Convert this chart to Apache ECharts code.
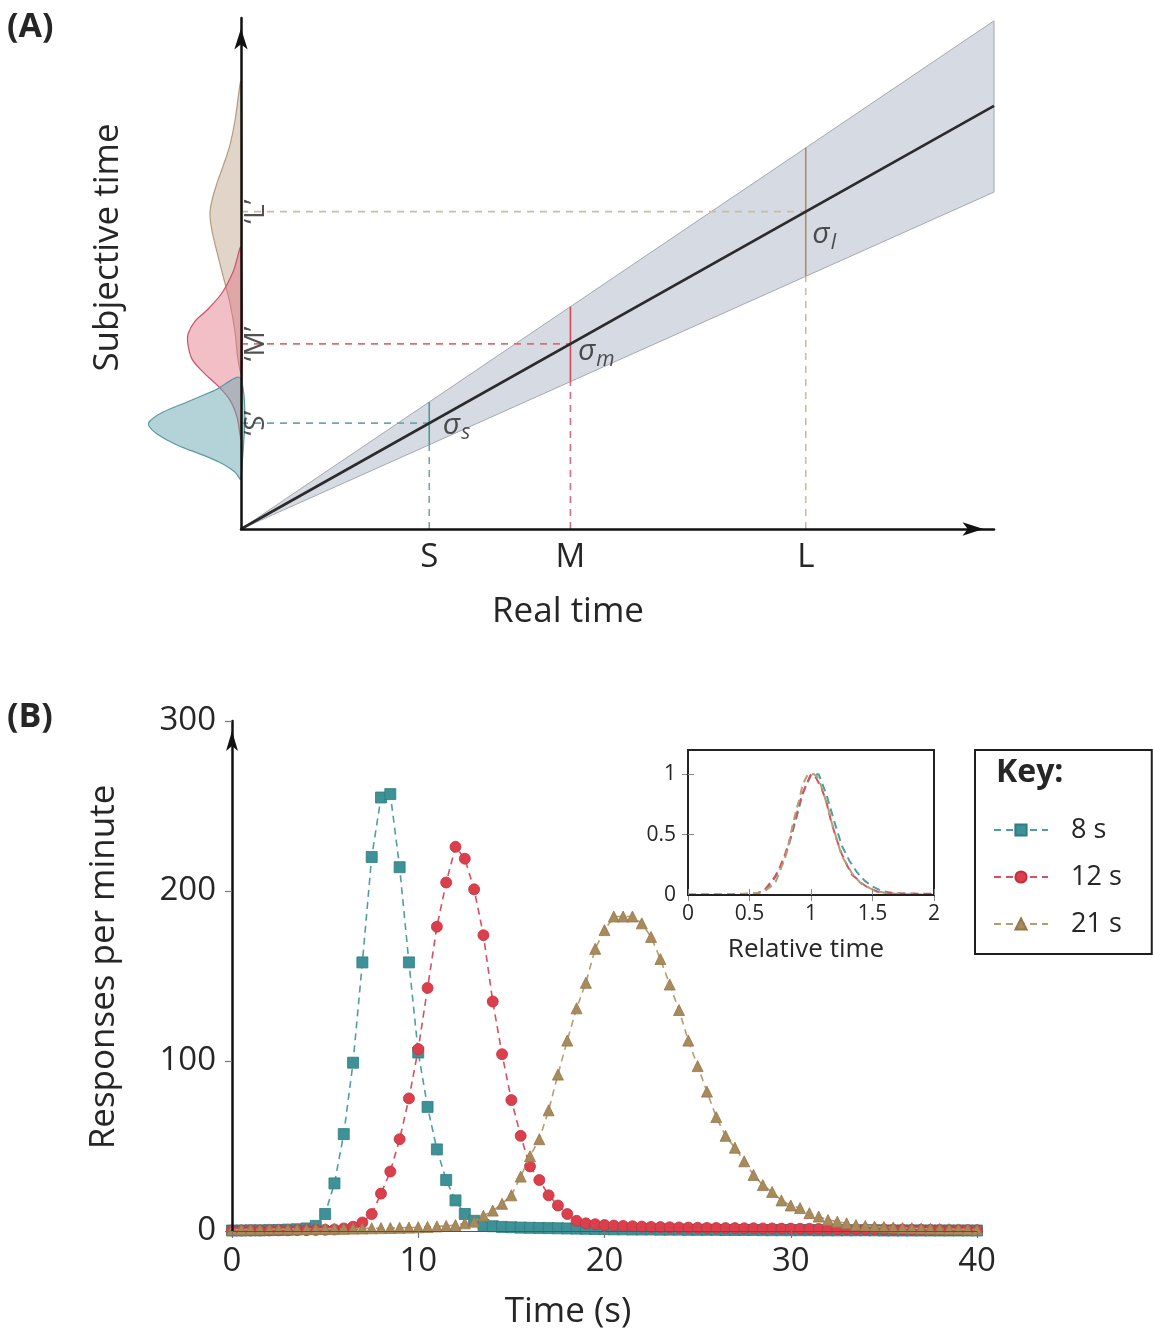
<!DOCTYPE html>
<html><head><meta charset="utf-8">
<script src="https://cdn.jsdelivr.net/npm/echarts@6/dist/echarts.min.js"></script>
<style>html,body{margin:0;padding:0;background:#fff}#c{width:1153px;height:1336px}</style>
</head><body><div id="c"></div>
<script>
// ---------- Panel A data ----------
const realMarks = ['S', 'M', 'L'];
const subjMarks = ['\u2018S\u2019', '\u2018M\u2019', '\u2018L\u2019'];
const sigmaSubs = ['s', 'm', 'l'];
const realPos = [8, 14, 24];
const subjMean = [4.5, 7.87, 13.49];
const subjHigh = [5.4, 9.45, 16.2];
const subjLow = [3.58, 6.27, 10.74];
const bandReal = [0, 32];
const bandMean = [0, 17.98];
const bandHigh = [0, 21.6];
const bandLow = [0, 14.32];
// subjective-time distributions (value along subjective axis, density drawn leftward)
const distS_subj = [6.37, 5.86, 5.40, 4.97, 4.59, 4.38, 4.04, 3.57, 3.14, 2.76, 2.42, 2.12];
const distS_dens = [0, 1.19, 2.29, 3.31, 3.87, 3.91, 3.57, 2.72, 1.61, 0.77, 0.26, 0];
const distM_subj = [11.94, 10.92, 10.03, 9.31, 8.84, 8.29, 7.82, 7.22, 6.67, 6.08, 5.48, 4.76, 3.87];
const distM_dens = [0, 0.34, 0.81, 1.44, 1.95, 2.25, 2.25, 2.08, 1.61, 0.98, 0.47, 0.17, 0];
const distL_subj = [18.95, 17.34, 16.32, 15.43, 14.70, 13.98, 13.39, 12.66, 11.77, 10.75, 9.60, 8.41, 7.22, 6.67];
const distL_dens = [0, 0.26, 0.47, 0.76, 1.02, 1.23, 1.32, 1.23, 1.02, 0.76, 0.47, 0.26, 0.13, 0];

// ---------- Panel B data ----------
const seriesNames = ['8 s', '12 s', '21 s'];
const durations = [8, 12, 21];
const timeSec = [0,0.5,1,1.5,2,2.5,3,3.5,4,4.5,5,5.5,6,6.5,7,7.5,8,8.5,9,9.5,10,10.5,11,11.5,12,12.5,13,13.5,14,14.5,15,15.5,16,16.5,17,17.5,18,18.5,19,19.5,20,20.5,21,21.5,22,22.5,23,23.5,24,24.5,25,25.5,26,26.5,27,27.5,28,28.5,29,29.5,30,30.5,31,31.5,32,32.5,33,33.5,34,34.5,35,35.5,36,36.5,37,37.5,38,38.5,39,39.5,40];
const resp8 = [0.3,0.3,0.4,0.4,0.5,0.6,0.8,1.0,
  1.5,3,10,28,57,99,158,220,255,257,214,158,105,73,48,30,18,10,6,3.5,2.8,2.4,2.2,2.0,1.9,1.8,1.7,1.6,1.5,1.4,1.3,1.2,1.1,
  1.0,1.0,0.9,0.9,0.9,0.8,0.8,0.8,0.7,0.7,0.7,0.7,0.6,0.6,0.6,0.6,0.5,0.5,0.5,0.5,0.5,0.5,0.4,0.4,0.4,0.4,0.4,0.4,0.4,0.3,0.3,0.3,0.3,0.3,0.3,0.3,0.3,0.3,0.3,0.3];
const resp12 = [0.3,0.3,0.3,0.3,0.4,0.4,0.4,0.5,0.5,0.6,
  0.7,0.9,1.5,2.5,5,10,22,35,54,78,107,143,179,205,226,219,201,174,135,104,77,56,38,30,21,15,10,6,4.5,4,3.5,3.2,3.0,2.8,2.6,2.4,2.3,2.2,2.1,2.0,1.9,
  1.8,1.8,1.7,1.7,1.6,1.6,1.5,1.5,1.4,1.4,1.3,1.3,1.2,1.2,1.1,1.1,1.0,1.0,0.9,0.9,0.8,0.8,0.7,0.7,0.6,0.6,0.5,0.5,0.5,0.4];
const resp21 = [0.8,0.8,0.9,0.9,1.0,1.0,1.0,1.1,1.1,1.2,1.2,1.3,1.3,1.4,1.5,1.6,
  1.7,1.8,1.9,2.0,2.2,2.4,2.7,3.0,3.5,4.5,5.5,9,12,16,21,32,44,54,71,92,112,131,146,166,177,185,185,185,181,173,160,145,130,112,97,82,67,56,49,41,33,27,23,18,15,13.5,10.5,8.5,6.5,5.5,4.5,3.5,3,2.6,2.3,2.0,1.8,1.6,1.4,1.3,1.2,1.1,1.0,0.9,0.8];
const insetTicksY = [0, 0.5, 1];

// ---------- styles ----------
const FONT = 'Open Sans';
const TXT = '#262626';
const colA = {
  dash: ['#6fa7aa', '#dc6b7d', '#cbbba6'],
  solid: ['#4d9a9c', '#d3485c', '#a98e6b'],
  fill: ['rgba(105,168,178,0.5)', 'rgba(226,112,128,0.45)', 'rgba(196,170,146,0.5)'],
  edge: ['#5b9aa4', '#c9536a', '#b49c82']
};
const colB = {
  line: ['#4f9ea2', '#d6505f', '#b59d72'],
  fill: ['#3e9196', '#dc3f4c', '#a98a5c'],
  border: ['#2d7d82', '#c3313e', '#94774a'],
  symbol: ['rect', 'circle', 'triangle'],
  size: [11, 11, 11]
};
const sigmaOffsets = [[13, 2], [7, 8], [6, 23]];

function polygonSeries(xIdx, yIdx, xs, ys, style, smooth, z) {
  return {
    type: 'custom', xAxisIndex: xIdx, yAxisIndex: yIdx, silent: true, z: z || 1,
    data: [[xs[0], ys[0]]],
    renderItem: function (params, api) {
      const pts = xs.map((x, i) => api.coord([x, ys[i]]));
      return { type: 'polygon', shape: { points: pts, smooth: smooth || 0 }, style: style };
    }
  };
}
function seg(points, color, width, dashed, z) {
  return {
    type: 'line', xAxisIndex: 0, yAxisIndex: 0, data: points, symbol: 'none', silent: true, z: z || 3,
    lineStyle: { color: color, width: width, type: dashed ? [7, 6] : 'solid' }
  };
}

const series = [];
// band
series.push(polygonSeries(0, 0, [bandReal[0], bandReal[1], bandReal[1]], [bandHigh[0], bandHigh[1], bandLow[1]],
  { fill: '#d6dae2', stroke: '#a4a8b0', lineWidth: 1 }, 0, 1));
// distributions (left of the subjective axis)
const dists = [[distL_dens, distL_subj, 2], [distM_dens, distM_subj, 1], [distS_dens, distS_subj, 0]];
dists.forEach(d => {
  const k = d[2];
  series.push(polygonSeries(1, 1, d[0].map(v => -v), d[1],
    { fill: colA.fill[k], stroke: colA.edge[k], lineWidth: 1.2 }, 0.35, 1));
});
// dashed guides and sigma segments
realPos.forEach((p, i) => {
  series.push(seg([[0, subjMean[i]], [p, subjMean[i]]], colA.dash[i], 1.6, true, 2));
  series.push(seg([[p, 0], [p, subjLow[i]]], colA.dash[i], 1.6, true, 2));
  series.push(seg([[p, subjLow[i]], [p, subjHigh[i]]], colA.solid[i], 1.6, false, 3));
});
// mean line
series.push(seg([[bandReal[0], bandMean[0]], [bandReal[1], bandMean[1]]], '#2b2b2e', 2.6, false, 4));
// subjective labels
series.push({
  type: 'scatter', xAxisIndex: 0, yAxisIndex: 0, symbolSize: 1, silent: true, z: 6,
  itemStyle: { color: 'rgba(0,0,0,0)' },
  data: subjMean.map((m, i) => ({ value: [0, m], name: subjMarks[i] })),
  label: { show: true, position: 'inside', offset: [0, 15], rotate: 90, formatter: p => p.name,
    fontFamily: FONT, fontSize: 28, color: TXT }
});
// sigma labels
series.push({
  type: 'scatter', xAxisIndex: 0, yAxisIndex: 0, symbolSize: 1, silent: true, z: 6,
  itemStyle: { color: 'rgba(0,0,0,0)' },
  data: realPos.map((p, i) => ({ value: [p, subjMean[i]], name: sigmaSubs[i],
    label: { offset: sigmaOffsets[i] } })),
  label: { show: true, position: 'right', distance: 0,
    formatter: p => '{g|\u03c3}{s|' + p.name + '}',
    rich: {
      g: { fontFamily: FONT, fontSize: 30, fontStyle: 'italic', color: TXT, verticalAlign: 'middle' },
      s: { fontFamily: FONT, fontSize: 21, fontStyle: 'italic', color: TXT, padding: [16, 0, 0, 1], verticalAlign: 'bottom' }
    } }
});
// Panel B main series
const respAll = [resp8, resp12, resp21];
respAll.forEach((vals, k) => {
  series.push({
    name: seriesNames[k], type: 'line', xAxisIndex: 2, yAxisIndex: 2,
    data: timeSec.map((t, i) => [t, vals[i]]),
    symbol: colB.symbol[k], symbolSize: colB.size[k], z: 3 + k,
    itemStyle: { color: colB.fill[k], borderColor: colB.border[k], borderWidth: 0.8 },
    lineStyle: { color: colB.line[k], width: 1.6, type: [7, 5] }
  });
});
// inset: normalized by peak, time relative to target duration
respAll.forEach((vals, k) => {
  const m = Math.max.apply(null, vals);
  series.push({
    name: seriesNames[k] + ' (relative)', type: 'line', xAxisIndex: 3, yAxisIndex: 3,
    data: timeSec.map((t, i) => [t / durations[k], vals[i] / m]).filter(p => p[0] <= 2),
    symbol: 'none', z: 3 + k, silent: true,
    lineStyle: { color: colB.line[k], width: 2, type: [8, 5] }
  });
});

const hidden = { show: false };
const noSplit = { show: false };
const option = {
  animation: false,
  backgroundColor: '#fff',
  textStyle: { fontFamily: FONT },
  title: [
    { text: '(A)', left: 7, top: 10, padding: 0, textStyle: { fontFamily: FONT, fontSize: 34, fontWeight: 'bold', color: TXT } },
    { text: '(B)', left: 7, top: 700, padding: 0, textStyle: { fontFamily: FONT, fontSize: 34, fontWeight: 'bold', color: TXT } },
    { text: 'Key:', left: 996, top: 757, padding: 0, textStyle: { fontFamily: FONT, fontSize: 32, fontWeight: 'bold', color: TXT } }
  ],
  legend: {
    data: seriesNames, orient: 'vertical', left: 975, top: 750,
    padding: [66, 30, 16, 18], itemWidth: 54, itemHeight: 14, itemGap: 19,
    borderColor: '#1e1e1e', borderWidth: 2,
    textStyle: { fontFamily: FONT, fontSize: 27, color: TXT, lineHeight: 28, padding: [0, 0, 0, 18] }
  },
  grid: [
    { left: 241, top: 18, width: 753, height: 511 },
    { left: 141, top: 18, width: 100, height: 511 },
    { left: 232, top: 721, width: 745, height: 510 },
    { left: 688, top: 750, width: 246, height: 145, show: true, borderColor: '#222', borderWidth: 2 }
  ],
  xAxis: [
    { gridIndex: 0, type: 'value', min: 0, max: 32, z: 10,
      axisLine: { lineStyle: { color: '#111', width: 2.5 }, symbol: ['none', 'arrow'], symbolSize: [10, 21], symbolOffset: [0, -10.5] },
      axisTick: hidden, splitLine: noSplit,
      axisLabel: { customValues: realPos, formatter: v => realMarks[realPos.indexOf(v)], fontSize: 33, color: TXT, margin: 12, fontFamily: FONT },
      name: 'Real time', nameLocation: 'middle', nameGap: 66,
      nameTextStyle: { fontSize: 35, color: TXT, fontFamily: FONT, padding: [0, 99, 0, 0] } },
    { gridIndex: 1, type: 'value', min: -4.25, max: 0, show: false },
    { gridIndex: 2, type: 'value', min: 0, max: 40, interval: 10, z: 10,
      axisLine: { lineStyle: { color: '#555', width: 1 } },
      axisTick: { length: 7, lineStyle: { color: '#777', width: 1.2 } }, splitLine: noSplit,
      axisLabel: { fontSize: 33, color: TXT, margin: 14, fontFamily: FONT },
      name: 'Time (s)', nameLocation: 'middle', nameGap: 64,
      nameTextStyle: { fontSize: 35, color: TXT, fontFamily: FONT, padding: [0, 73, 0, 0] } },
    { gridIndex: 3, type: 'value', min: 0, max: 2, interval: 0.5, z: 10,
      axisLine: { lineStyle: { color: '#222', width: 2 } },
      axisTick: { inside: true, length: 6, lineStyle: { color: '#888' } }, splitLine: noSplit,
      axisLabel: { fontSize: 21, color: TXT, margin: 9, fontFamily: FONT },
      name: 'Relative time', nameLocation: 'middle', nameGap: 42,
      nameTextStyle: { fontSize: 26, color: TXT, fontFamily: FONT, padding: [0, 10, 0, 0] } },
    { gridIndex: 3, type: 'value', min: 0, max: 2, interval: 0.5, position: 'top',
      axisLine: { lineStyle: { color: '#222', width: 2 } },
      axisTick: { inside: true, length: 6, lineStyle: { color: '#888' } }, splitLine: noSplit, axisLabel: hidden }
  ],
  yAxis: [
    { gridIndex: 0, type: 'value', min: 0, max: 21.72, z: 10,
      axisLine: { lineStyle: { color: '#111', width: 2.5 }, symbol: ['none', 'arrow'], symbolSize: [10, 21], symbolOffset: [0, -10.5] },
      axisTick: hidden, axisLabel: hidden, splitLine: noSplit,
      name: 'Subjective time', nameLocation: 'middle', nameGap: 115,
      nameTextStyle: { fontSize: 35, color: TXT, fontFamily: FONT, padding: [0, 0, 0, 52] } },
    { gridIndex: 1, type: 'value', min: 0, max: 21.72, show: false },
    { gridIndex: 2, type: 'value', min: 0, max: 300, interval: 100, z: 10,
      axisLine: { lineStyle: { color: '#111', width: 2.5 }, symbol: ['none', 'arrow'], symbolSize: [9, 20], symbolOffset: [0, -10] },
      axisTick: { length: 7, lineStyle: { color: '#777', width: 1.2 } }, splitLine: noSplit,
      axisLabel: { fontSize: 33, color: TXT, margin: 16, fontFamily: FONT },
      name: 'Responses per minute', nameLocation: 'middle', nameGap: 110,
      nameTextStyle: { fontSize: 35, color: TXT, fontFamily: FONT, padding: [0, 0, 0, 18] } },
    { gridIndex: 3, type: 'value', min: 0, max: 1.2, z: 10,
      axisLine: { lineStyle: { color: '#222', width: 2 } },
      axisTick: { inside: true, length: 6, customValues: [0.5, 1], lineStyle: { color: '#888' } }, splitLine: noSplit,
      axisLabel: { customValues: insetTicksY, fontSize: 21, color: TXT, margin: 12, fontFamily: FONT } },
    { gridIndex: 3, type: 'value', min: 0, max: 1.2, position: 'right',
      axisLine: { lineStyle: { color: '#222', width: 2 } },
      axisTick: { inside: true, length: 6, customValues: [0.5, 1], lineStyle: { color: '#888' } }, splitLine: noSplit, axisLabel: hidden }
  ],
  series: series
};
const chart = echarts.init(document.getElementById('c'), null, { renderer: 'canvas' });
chart.setOption(option);
</script></body></html>
